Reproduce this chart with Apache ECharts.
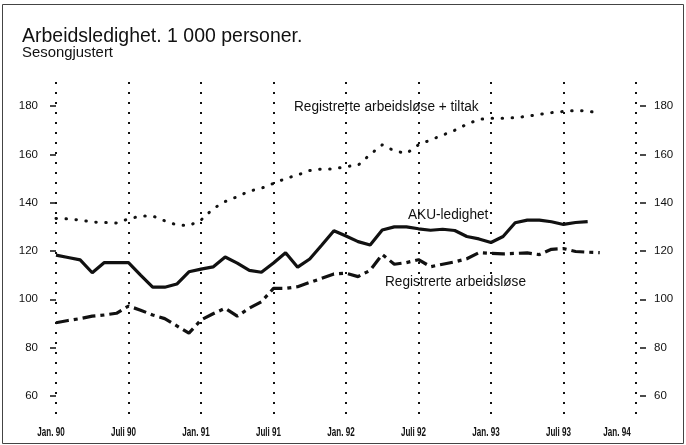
<!DOCTYPE html>
<html lang="no">
<head>
<meta charset="UTF-8">
<title>Arbeidsledighet</title>
<script src="https://cdn.jsdelivr.net/npm/echarts@6.0.0/dist/echarts.min.js"></script>
<style>
  html,body{margin:0;padding:0;background:#fff;}
  #main{width:686px;height:445px;}
</style>
</head>
<body>
<div id="main"></div>
<script>
// x-aksen: måneder fra jan. 90 (0) til jan. 94 (48)
var tickLabels = ['Jan. 90','Juli 90','Jan. 91','Juli 91','Jan. 92','Juli 92','Jan. 93','Juli 93','Jan. 94'];
var yTicks = [60, 80, 100, 120, 140, 160, 180];

// Registrerte arbeidsløse + tiltak, jan. 90 - okt. 93
var regTiltak = [133.5,133.3,132.8,132,131.8,131.6,133.3,134.5,134.5,132.5,130.8,130.5,
                 132.8,137.5,140.5,142.5,144.8,146,148,150,151.5,153.3,154,154,
                 155,155.5,160,164,161.5,160.4,164,166,168,170,172.5,174.5,
                 175,175,175.2,175.8,176.6,177.3,177.8,178.2,178,177];
// AKU-ledighet, jan. 90 - sep. 93
var aku = [118.3,117.3,116.3,111,115.2,115.2,115.2,110,105,105,106.3,111.4,
           112.5,113.4,117.5,115,112,111.2,115,119.3,113.3,116.7,122.5,128.4,
           126.2,123.9,122.5,128.7,130,130,129.2,128.6,129,128.5,126,125,
           123.5,126,131.7,132.8,132.8,132.1,131,131.8,132.2];
// Registrerte arbeidsløse, jan. 90 - okt. 93
var reg = [90.3,91.2,92,93,93.5,94.2,97.2,95.5,93.5,92,89,86,
           91.4,94,96.3,93,96.3,99,104.5,104.5,105.2,107,108.7,110.5,
           110.8,109.4,112,118.6,114.5,115.2,116.4,113.5,114.5,115.5,116.8,119.3,
           119,118.8,119,119.2,118.5,120.7,121,119.8,119.5,119.3];

function pairs(arr){ return arr.map(function(v, i){ return [i, v]; }); }

var sans = "'Liberation Sans', Arial, sans-serif";

var chart = echarts.init(document.getElementById('main'));

function yAxis(pos){
  return {
    type: 'value', position: pos, min: 50, max: 190, offset: 4,
    axisLine: {show: false},
    splitLine: {show: false},
    axisTick: {show: true, length: 6, customValues: yTicks, lineStyle: {color: '#111', width: 1.5}},
    axisLabel: {customValues: yTicks, margin: 14, color: '#111', fontSize: 11.5, fontFamily: sans}
  };
}

// smal tekst: skaleres vannrett rundt venstre kant
function label(id, text, x, y, size, sx){
  return {type: 'text', id: id, x: x, y: y, scaleX: sx,
          style: {text: text, font: size + 'px ' + sans, fill: '#111', verticalAlign: 'middle'}};
}

var option = {
  animation: false,
  grid: {left: 56, right: 50, top: 82, bottom: 25},
  xAxis: {
    type: 'value', min: 0, max: 48, interval: 6,
    axisLine: {show: false},
    axisTick: {show: false},
    axisLabel: {show: false},
    splitLine: {show: true, lineStyle: {color: '#111', width: 2, type: [2, 8]}}
  },
  yAxis: [yAxis('left'), yAxis('right')],
  series: [
    {name: 'Registrerte arbeidsløse + tiltak', type: 'line', data: pairs(regTiltak), showSymbol: false,
     lineStyle: {color: '#111', width: 3, type: [0.5, 9.5], cap: 'round'}},
    {name: 'AKU-ledighet', type: 'line', data: pairs(aku), showSymbol: false,
     lineStyle: {color: '#111', width: 3.2}},
    {name: 'Registrerte arbeidsløse', type: 'line', data: pairs(reg), showSymbol: false,
     lineStyle: {color: '#111', width: 3.2, type: [13, 5, 4, 5]}}
  ],
  graphic: [
    {type: 'rect', id: 'frame', silent: true, shape: {x: 2.5, y: 4.5, width: 681, height: 439},
     style: {fill: null, stroke: '#444', lineWidth: 1}},
    label('title', 'Arbeidsledighet. 1 000 personer.', 22, 36, 20.5, 0.95),
    label('sub', 'Sesongjustert', 22, 53, 15.5, 0.96),
    label('l1', 'Registrerte arbeidsløse + tiltak', 294, 107, 15.5, 0.88),
    label('l2', 'AKU-ledighet', 408, 215, 15.5, 0.88),
    label('l3', 'Registrerte arbeidsløse', 385, 282, 15.5, 0.88)
  ]
};

chart.setOption(option);

// smale, fete etiketter på x-aksen, plassert etter aksens egen skala
var labelY = chart.convertToPixel({yAxisIndex: 0}, 50) + 12.5;
var xLabels = tickLabels.map(function(t, i){
  var px = chart.convertToPixel({xAxisIndex: 0}, i * 6);
  var shift = i === tickLabels.length - 1 ? -19 : -5;
  return {type: 'text', id: 'xl' + i, x: px + shift, y: labelY, scaleX: 0.62,
          style: {text: t, font: 'bold 13px ' + sans, fill: '#111', align: 'center', verticalAlign: 'middle'}};
});
chart.setOption({graphic: xLabels});
</script>
</body>
</html>
